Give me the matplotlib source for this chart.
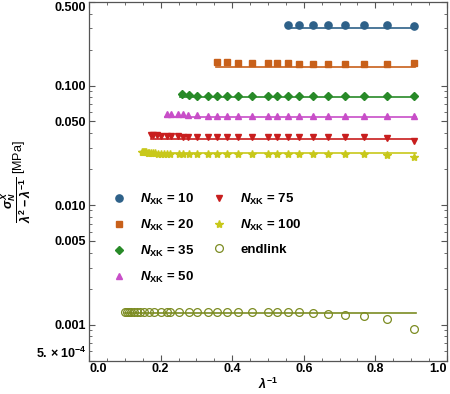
import numpy as np
import matplotlib
matplotlib.use("Agg")
import matplotlib.pyplot as plt
from matplotlib.ticker import FixedLocator, NullFormatter, MultipleLocator

plt.rcParams['font.family'] = ['Liberation Sans', 'DejaVu Sans']
plt.rcParams['font.weight'] = 'bold'
plt.rcParams['mathtext.fontset'] = 'custom'
plt.rcParams['mathtext.rm'] = 'Liberation Sans:bold'
plt.rcParams['mathtext.it'] = 'Liberation Sans:bold:italic'
plt.rcParams['mathtext.bf'] = 'Liberation Sans:bold'

# data: x = 1/lambda, y = reduced stress [MPa]
x_n10 = [0.556, 0.588, 0.625, 0.667, 0.714, 0.769, 0.833, 0.909]
y_n10 = [0.322, 0.322, 0.320, 0.320, 0.319, 0.318, 0.318, 0.317]

x_n20 = [0.357, 0.385, 0.417, 0.455, 0.5, 0.526, 0.556, 0.588, 0.625, 0.667,
         0.714, 0.769, 0.833, 0.909]
y_n20 = [0.157, 0.156, 0.154, 0.153, 0.153, 0.153, 0.153, 0.152, 0.152, 0.152,
         0.152, 0.152, 0.152, 0.153]

x_n35 = [0.259, 0.278, 0.303, 0.333, 0.357, 0.385, 0.417, 0.455, 0.5, 0.526,
         0.556, 0.588, 0.625, 0.667, 0.714, 0.769, 0.833, 0.909]
y_n35 = [0.085, 0.083, 0.082, 0.0815, 0.0814, 0.0814, 0.0812, 0.0812, 0.0812, 0.0812,
         0.0812, 0.0812, 0.0812, 0.0812, 0.0812, 0.0812, 0.0812, 0.0812]

x_n50 = [0.217, 0.228, 0.249, 0.263, 0.277, 0.303, 0.333, 0.357, 0.385, 0.417,
         0.455, 0.5, 0.526, 0.556, 0.588, 0.625, 0.667, 0.714, 0.769, 0.833, 0.909]
y_n50 = [0.0583, 0.0583, 0.0578, 0.0575, 0.0568, 0.0562, 0.0560, 0.0558, 0.0558, 0.0558,
         0.0558, 0.0558, 0.0558, 0.0558, 0.0558, 0.0558, 0.0558, 0.0558, 0.0558, 0.0558, 0.0558]

x_n75 = [0.172, 0.180, 0.189, 0.200, 0.217, 0.228, 0.249, 0.263, 0.277, 0.303,
         0.333, 0.357, 0.385, 0.417, 0.455, 0.5, 0.526, 0.556, 0.588, 0.625,
         0.667, 0.714, 0.769, 0.833, 0.909]
y_n75 = [0.0389, 0.0385, 0.0383, 0.0380, 0.0380, 0.0376, 0.0376, 0.0374, 0.0374, 0.0374,
         0.0374, 0.0374, 0.0374, 0.0374, 0.0373, 0.0373, 0.0373, 0.0373, 0.0373, 0.0372,
         0.0372, 0.0371, 0.0370, 0.0366, 0.0342]

x_n100 = [0.148, 0.151, 0.154, 0.157, 0.160, 0.164, 0.168, 0.173, 0.178, 0.185,
          0.192, 0.200, 0.208, 0.217, 0.227, 0.250, 0.263, 0.278, 0.303, 0.333,
          0.357, 0.385, 0.417, 0.455, 0.5, 0.526, 0.556, 0.588, 0.625, 0.667,
          0.714, 0.769, 0.833, 0.909]
y_n100 = [0.0278, 0.0278, 0.0277, 0.0277, 0.0276, 0.0275, 0.0273, 0.0272, 0.0272, 0.0270,
          0.0268, 0.0268, 0.0268, 0.0267, 0.0267, 0.0267, 0.0267, 0.0267, 0.0267, 0.0267,
          0.0267, 0.0267, 0.0267, 0.0267, 0.0267, 0.0267, 0.0267, 0.0267, 0.0267, 0.0267,
          0.0266, 0.0265, 0.0263, 0.0253]

x_end = [0.100, 0.105, 0.111, 0.118, 0.125, 0.133, 0.143, 0.154, 0.167, 0.182,
         0.200, 0.217, 0.227, 0.250, 0.278, 0.303, 0.333, 0.357, 0.385, 0.417,
         0.455, 0.500, 0.526, 0.556, 0.588, 0.625, 0.667, 0.714, 0.769, 0.833, 0.909]
y_end = [0.00127, 0.00127, 0.00127, 0.00127, 0.00127, 0.00127, 0.00127, 0.00127, 0.00127, 0.00127,
         0.00127, 0.00127, 0.00127, 0.00127, 0.00127, 0.00127, 0.00127, 0.00127, 0.00127, 0.00127,
         0.00127, 0.00127, 0.00127, 0.00127, 0.00127, 0.00126, 0.00123, 0.00121, 0.00118, 0.00112,
         0.000925]

# fitted constant levels and their x-range
fit_level = [0.303, 0.142, 0.0798, 0.0547, 0.036, 0.0272, 0.00126]
fit_x0 = [0.553, 0.355, 0.254, 0.212, 0.172, 0.147, 0.100]
fit_x1 = [0.912, 0.912, 0.912, 0.915, 0.915, 0.915, 0.915]

labels = [r'$N_{\mathrm{XK}}$ = 10', r'$N_{\mathrm{XK}}$ = 20', r'$N_{\mathrm{XK}}$ = 35',
          r'$N_{\mathrm{XK}}$ = 50', r'$N_{\mathrm{XK}}$ = 75', r'$N_{\mathrm{XK}}$ = 100',
          'endlink']

colors = ['#2E6189', '#C8601A', '#288A28', '#C84EC8', '#C81E1E', '#C8C81A', '#7C8C22']
markers = ['o', 's', 'D', '^', 'v', '*', 'o']
msizes = [5.2, 3.8, 3.6, 4.6, 4.6, 6.0, 5.6]

xs = [x_n10, x_n20, x_n35, x_n50, x_n75, x_n100, x_end]
ys = [y_n10, y_n20, y_n35, y_n50, y_n75, y_n100, y_end]

fig = plt.figure(figsize=(4.5, 3.94), dpi=100)
ax = fig.add_axes([0.198, 0.085, 0.795, 0.91])

for i in range(7):
    ax.plot([fit_x0[i], fit_x1[i]], [fit_level[i], fit_level[i]], color=colors[i],
            lw=1.2, zorder=2)
    if i == 6:
        ax.plot(xs[i], ys[i], ls='none', marker='o', ms=msizes[i], mfc='none',
                mec=colors[i], mew=0.9, label=labels[i], zorder=3)
    else:
        ax.plot(xs[i], ys[i], ls='none', marker=markers[i], ms=msizes[i],
                color=colors[i], mec=colors[i], label=labels[i], zorder=3)

ax.set_yscale('log')
ax.set_xlim(0, 1.0)
ax.set_ylim(5e-4, 0.5)

ax.set_xticks([0, 0.2, 0.4, 0.6, 0.8, 1.0])
ax.set_xticklabels(['0.0', '0.2', '0.4', '0.6', '0.8', '1.0'])
ax.xaxis.set_minor_locator(MultipleLocator(0.05))

yticks = [5e-4, 0.001, 0.005, 0.01, 0.05, 0.1, 0.5]
ylabels = [r'$5.\times10^{-4}$', '0.001', '0.005', '0.010', '0.050', '0.100', '0.500']
ax.set_yticks(yticks)
ax.set_yticklabels(ylabels)
minor = [k * 10.0 ** e for e in range(-4, 0) for k in range(1, 10)]
minor = [m for m in minor if m not in yticks and 5e-4 < m < 0.5]
ax.yaxis.set_minor_locator(FixedLocator(minor))
ax.yaxis.set_minor_formatter(NullFormatter())

ax.tick_params(which='both', direction='in', top=True, right=True,
               labelsize=9, color='#555555', pad=2)
ax.tick_params(which='major', length=4, width=0.8)
ax.tick_params(which='minor', length=2, width=0.6)
for s in ax.spines.values():
    s.set_color('#555555')
    s.set_linewidth(0.9)

# edge labels sit inside the frame, as in the original
xl = ax.get_xticklabels()
xl[0].set_ha('left')
xl[-1].set_ha('right')
yl = ax.get_yticklabels()
yl[0].set_va('bottom')
yl[-1].set_va('top')

ax.set_xlabel(r'$\lambda^{-1}$', fontsize=9, labelpad=1)
ax.set_ylabel(r'$\dfrac{\sigma_N^X}{\lambda^2-\lambda^{-1}}$ [MPa]', fontsize=9, labelpad=2)

ax.legend(loc='upper left', bbox_to_anchor=(0.05, 0.485), ncol=2, frameon=False,
          fontsize=9.5, handlelength=1.0, handletextpad=1.1, labelspacing=0.82,
          columnspacing=1.4, borderaxespad=0)

fig.savefig('out.png', dpi=100)
